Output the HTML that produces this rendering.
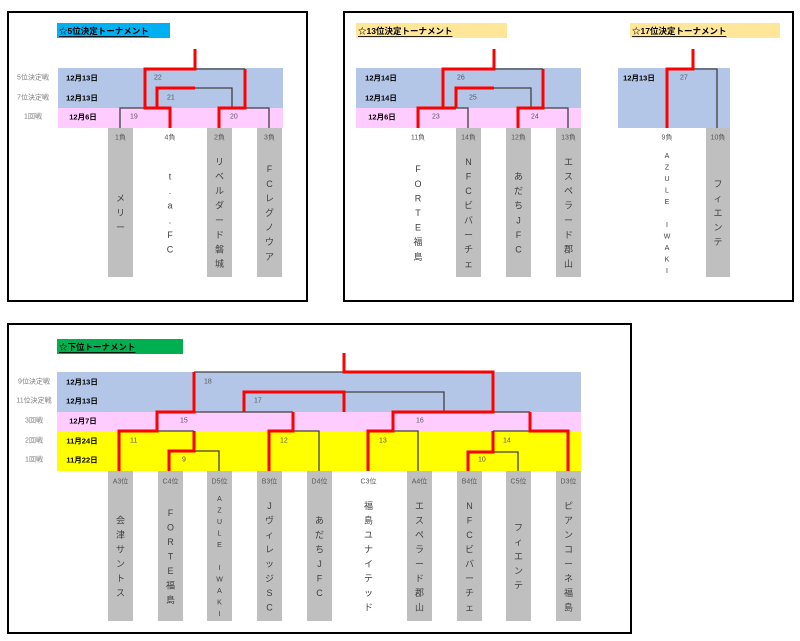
<!DOCTYPE html>
<html><head><meta charset="utf-8"><style>
html,body{margin:0;padding:0;background:#fff;}
svg{display:block;}
text{font-family:"Liberation Sans","Noto Sans CJK JP",sans-serif;}
.t{font-size:8.5px;font-weight:bold;fill:#000;text-decoration:underline;dominant-baseline:central;}
.l{font-size:7px;fill:#7f7f7f;text-anchor:middle;dominant-baseline:central;}
.d{font-size:7.5px;font-weight:bold;fill:#000;text-anchor:middle;dominant-baseline:central;}
.n{font-size:7px;fill:#595959;dominant-baseline:central;}
.c{font-size:7px;fill:#595959;text-anchor:middle;dominant-baseline:central;}
.m{font-size:9px;fill:#404040;text-anchor:middle;dominant-baseline:central;}
.s{font-size:7px;fill:#404040;text-anchor:middle;dominant-baseline:central;}
.r{fill:none;stroke:#ff0000;stroke-width:3;}
.k{fill:none;stroke:#404040;stroke-width:1.3;}
</style></head><body>
<svg width="800" height="641" viewBox="0 0 800 641" xmlns="http://www.w3.org/2000/svg">
<!-- panel borders -->
<rect x="8" y="12" width="299" height="289" fill="#fff" stroke="#000" stroke-width="2"/>
<rect x="344" y="12" width="449" height="289" fill="#fff" stroke="#000" stroke-width="2"/>
<rect x="8" y="324" width="623" height="309" fill="#fff" stroke="#000" stroke-width="2"/>

<!-- ===== Panel 1 ===== -->
<rect x="57" y="23" width="113" height="15" fill="#00B0F0"/>
<text class="t" x="59" y="31">☆5位決定トーナメント</text>
<rect x="58" y="68" width="225" height="40" fill="#B4C6E7"/>
<rect x="58" y="108" width="225" height="20" fill="#FFCCFF"/>
<text class="l" x="33" y="78">5位決定戦</text>
<text class="l" x="33" y="98">7位決定戦</text>
<text class="l" x="33" y="117">1回戦</text>
<text class="d" x="82" y="78">12月13日</text>
<text class="d" x="82" y="98">12月13日</text>
<text class="d" x="83" y="117">12月6日</text>
<rect x="108" y="128" width="25" height="149" fill="#BFBFBF"/>
<rect x="207" y="128" width="25" height="149" fill="#BFBFBF"/>
<rect x="257" y="128" width="25" height="149" fill="#BFBFBF"/>
<text class="c" x="120.5" y="138">1負</text>
<text class="c" x="170" y="138">4負</text>
<text class="c" x="219.5" y="138">2負</text>
<text class="c" x="269.5" y="138">3負</text>
<path class="k" d="M120,128 V108 H145"/>
<path class="k" d="M195,69 H245"/>
<path class="k" d="M195,88 H232 V108"/>
<path class="k" d="M232,108 H269 V128"/>
<path class="r" d="M195,49 V69 H145 V108 H170 V128"/>
<path class="r" d="M195,88 H157 V108"/>
<path class="r" d="M245,69 V108 H219 V128"/>
<text class="n" x="154" y="78">22</text>
<text class="n" x="167" y="98">21</text>
<text class="n" x="130" y="117">19</text>
<text class="n" x="230" y="117">20</text>
<text class="m" x="120.5"><tspan x="120.5" y="198.4">メ</tspan><tspan x="120.5" y="213">リ</tspan><tspan x="120.5" y="227.6">ー</tspan></text>
<text class="m" x="170"><tspan x="170" y="176.5">t</tspan><tspan x="170" y="191.1">.</tspan><tspan x="170" y="205.7">a</tspan><tspan x="170" y="220.3">.</tspan><tspan x="170" y="234.9">F</tspan><tspan x="170" y="249.5">C</tspan></text>
<text class="m" x="219.5"><tspan x="219.5" y="161.9">リ</tspan><tspan x="219.5" y="176.5">ベ</tspan><tspan x="219.5" y="191.1">ル</tspan><tspan x="219.5" y="205.7">ダ</tspan><tspan x="219.5" y="220.3">ー</tspan><tspan x="219.5" y="234.9">ド</tspan><tspan x="219.5" y="249.5">磐</tspan><tspan x="219.5" y="264.1">城</tspan></text>
<text class="m" x="269.5"><tspan x="269.5" y="169.2">F</tspan><tspan x="269.5" y="183.8">C</tspan><tspan x="269.5" y="198.4">レ</tspan><tspan x="269.5" y="213">グ</tspan><tspan x="269.5" y="227.6">ノ</tspan><tspan x="269.5" y="242.2">ウ</tspan><tspan x="269.5" y="256.8">ア</tspan></text>

<!-- ===== Panel 2 ===== -->
<rect x="356" y="23" width="151" height="15" fill="#FFE699"/>
<text class="t" x="358" y="31">☆13位決定トーナメント</text>
<rect x="630" y="23" width="150" height="15" fill="#FFE699"/>
<text class="t" x="632" y="31">☆17位決定トーナメント</text>
<rect x="356" y="68" width="225" height="40" fill="#B4C6E7"/>
<rect x="356" y="108" width="225" height="20" fill="#FFCCFF"/>
<text class="d" x="381" y="78">12月14日</text>
<text class="d" x="381" y="98">12月14日</text>
<text class="d" x="382" y="117">12月6日</text>
<rect x="456" y="128" width="25" height="149" fill="#BFBFBF"/>
<rect x="506" y="128" width="25" height="149" fill="#BFBFBF"/>
<rect x="556" y="128" width="25" height="149" fill="#BFBFBF"/>
<text class="c" x="418" y="138">11負</text>
<text class="c" x="468.5" y="138">14負</text>
<text class="c" x="518.5" y="138">12負</text>
<text class="c" x="568.5" y="138">13負</text>
<path class="k" d="M494,69 H543"/>
<path class="k" d="M494,88 H531 V108"/>
<path class="k" d="M456,108 H468 V128"/>
<path class="k" d="M531,108 H568 V128"/>
<path class="r" d="M494,49 V69 H443 V108"/>
<path class="r" d="M418,128 V108 H456"/>
<path class="r" d="M494,88 H456 V108"/>
<path class="r" d="M543,69 V108 H518 V128"/>
<text class="n" x="457" y="78">26</text>
<text class="n" x="469" y="98">25</text>
<text class="n" x="432" y="117">23</text>
<text class="n" x="531" y="117">24</text>
<text class="m"><tspan x="418" y="169.2">F</tspan><tspan x="418" y="183.8">O</tspan><tspan x="418" y="198.4">R</tspan><tspan x="418" y="213">T</tspan><tspan x="418" y="227.6">E</tspan><tspan x="418" y="242.2">福</tspan><tspan x="418" y="256.8">島</tspan></text>
<text class="m"><tspan x="468.5" y="161.9">N</tspan><tspan x="468.5" y="176.5">F</tspan><tspan x="468.5" y="191.1">C</tspan><tspan x="468.5" y="205.7">ビ</tspan><tspan x="468.5" y="220.3">バ</tspan><tspan x="468.5" y="234.9">ー</tspan><tspan x="468.5" y="249.5">チ</tspan><tspan x="468.5" y="264.1">ェ</tspan></text>
<text class="m"><tspan x="518.5" y="176.5">あ</tspan><tspan x="518.5" y="191.1">だ</tspan><tspan x="518.5" y="205.7">ち</tspan><tspan x="518.5" y="220.3">J</tspan><tspan x="518.5" y="234.9">F</tspan><tspan x="518.5" y="249.5">C</tspan></text>
<text class="m"><tspan x="568.5" y="161.9">エ</tspan><tspan x="568.5" y="176.5">ス</tspan><tspan x="568.5" y="191.1">ペ</tspan><tspan x="568.5" y="205.7">ラ</tspan><tspan x="568.5" y="220.3">ー</tspan><tspan x="568.5" y="234.9">ド</tspan><tspan x="568.5" y="249.5">郡</tspan><tspan x="568.5" y="264.1">山</tspan></text>

<!-- 17th -->
<rect x="618" y="68" width="112" height="60" fill="#B4C6E7"/>
<text class="d" x="639" y="78">12月13日</text>
<text class="n" x="680" y="78">27</text>
<rect x="706" y="128" width="24" height="149" fill="#BFBFBF"/>
<text class="c" x="667" y="138">9負</text>
<text class="c" x="718" y="138">10負</text>
<path class="k" d="M693,69 H717 V128"/>
<path class="r" d="M693,49 V69 H667 V128"/>
<text class="s"><tspan x="667" y="156">A</tspan><tspan x="667" y="167.5">Z</tspan><tspan x="667" y="179">U</tspan><tspan x="667" y="190.5">L</tspan><tspan x="667" y="202">E</tspan><tspan x="667" y="225">I</tspan><tspan x="667" y="236.5">W</tspan><tspan x="667" y="248">A</tspan><tspan x="667" y="259.5">K</tspan><tspan x="667" y="271">I</tspan></text>
<text class="m"><tspan x="718" y="183.8">フ</tspan><tspan x="718" y="198.4">ィ</tspan><tspan x="718" y="213">エ</tspan><tspan x="718" y="227.6">ン</tspan><tspan x="718" y="242.2">テ</tspan></text>

<!-- ===== Panel 3 ===== -->
<rect x="57" y="339" width="126" height="15" fill="#00B050"/>
<text class="t" x="59" y="347">☆下位トーナメント</text>
<rect x="57" y="372" width="524" height="40" fill="#B4C6E7"/>
<rect x="57" y="412" width="524" height="19" fill="#FFCCFF"/>
<rect x="57" y="431" width="524" height="40" fill="#FFFF00"/>
<text class="l" x="34" y="382">9位決定戦</text>
<text class="l" x="34" y="401">11位決定戦</text>
<text class="l" x="34" y="421">3回戦</text>
<text class="l" x="34" y="441">2回戦</text>
<text class="l" x="34" y="460">1回戦</text>
<text class="d" x="82" y="382">12月13日</text>
<text class="d" x="82" y="401">12月13日</text>
<text class="d" x="83" y="421">12月7日</text>
<text class="d" x="82" y="441">11月24日</text>
<text class="d" x="82" y="460">11月22日</text>
<rect x="108" y="471" width="25" height="150" fill="#BFBFBF"/>
<rect x="158" y="471" width="25" height="150" fill="#BFBFBF"/>
<rect x="207" y="471" width="25" height="150" fill="#BFBFBF"/>
<rect x="257" y="471" width="25" height="150" fill="#BFBFBF"/>
<rect x="307" y="471" width="25" height="150" fill="#BFBFBF"/>
<rect x="407" y="471" width="25" height="150" fill="#BFBFBF"/>
<rect x="457" y="471" width="25" height="150" fill="#BFBFBF"/>
<rect x="506" y="471" width="25" height="150" fill="#BFBFBF"/>
<rect x="556" y="471" width="25" height="150" fill="#BFBFBF"/>
<text class="c" x="120.5" y="482">A3位</text>
<text class="c" x="170.5" y="482">C4位</text>
<text class="c" x="219.5" y="482">D5位</text>
<text class="c" x="269.5" y="482">B3位</text>
<text class="c" x="319.5" y="482">D4位</text>
<text class="c" x="368.5" y="482">C3位</text>
<text class="c" x="419.5" y="482">A4位</text>
<text class="c" x="469.5" y="482">B4位</text>
<text class="c" x="518.5" y="482">C5位</text>
<text class="c" x="568.5" y="482">D3位</text>
<path class="k" d="M194,372 H344"/>
<path class="k" d="M344,392 H444 V412"/>
<path class="k" d="M194,412 H293"/>
<path class="k" d="M493,412 H530"/>
<path class="k" d="M157,431 H194"/>
<path class="k" d="M293,431 H319 V471"/>
<path class="k" d="M393,431 H418 V471"/>
<path class="k" d="M493,431 H530"/>
<path class="k" d="M194,451 H219 V471"/>
<path class="k" d="M493,452 H518 V471"/>
<path class="r" d="M344,353 V372 H493 V412 H393 V431 H368 V471"/>
<path class="r" d="M194,372 V412 H157 V431 H119 V471"/>
<path class="r" d="M244,412 V392 H344 V412"/>
<path class="r" d="M194,431 V451 H169 V471"/>
<path class="r" d="M293,412 V431 H269 V471"/>
<path class="r" d="M530,412 V431 H568 V471"/>
<path class="r" d="M493,431 V452 H468 V471"/>
<text class="n" x="204" y="382">18</text>
<text class="n" x="254" y="401">17</text>
<text class="n" x="180" y="421">15</text>
<text class="n" x="416" y="421">16</text>
<text class="n" x="130" y="441">11</text>
<text class="n" x="280" y="441">12</text>
<text class="n" x="379" y="441">13</text>
<text class="n" x="503" y="441">14</text>
<text class="n" x="182" y="460">9</text>
<text class="n" x="478" y="460">10</text>
<text class="m"><tspan x="120.5" y="520.3">会</tspan><tspan x="120.5" y="534.8">津</tspan><tspan x="120.5" y="549.3">サ</tspan><tspan x="120.5" y="563.8">ン</tspan><tspan x="120.5" y="578.3">ト</tspan><tspan x="120.5" y="592.8">ス</tspan></text>
<text class="m"><tspan x="170.5" y="513">F</tspan><tspan x="170.5" y="527.5">O</tspan><tspan x="170.5" y="542">R</tspan><tspan x="170.5" y="556.5">T</tspan><tspan x="170.5" y="571">E</tspan><tspan x="170.5" y="585.5">福</tspan><tspan x="170.5" y="600">島</tspan></text>
<text class="s"><tspan x="219.5" y="499">A</tspan><tspan x="219.5" y="510.5">Z</tspan><tspan x="219.5" y="522">U</tspan><tspan x="219.5" y="533.5">L</tspan><tspan x="219.5" y="545">E</tspan><tspan x="219.5" y="568">I</tspan><tspan x="219.5" y="579.5">W</tspan><tspan x="219.5" y="591">A</tspan><tspan x="219.5" y="602.5">K</tspan><tspan x="219.5" y="614">I</tspan></text>
<text class="m"><tspan x="269.5" y="505.8">J</tspan><tspan x="269.5" y="520.3">ヴ</tspan><tspan x="269.5" y="534.8">ィ</tspan><tspan x="269.5" y="549.3">レ</tspan><tspan x="269.5" y="563.8">ッ</tspan><tspan x="269.5" y="578.3">ジ</tspan><tspan x="269.5" y="592.8">S</tspan><tspan x="269.5" y="607.3">C</tspan></text>
<text class="m"><tspan x="319.5" y="520.3">あ</tspan><tspan x="319.5" y="534.8">だ</tspan><tspan x="319.5" y="549.3">ち</tspan><tspan x="319.5" y="563.8">J</tspan><tspan x="319.5" y="578.3">F</tspan><tspan x="319.5" y="592.8">C</tspan></text>
<text class="m"><tspan x="368.5" y="505.8">福</tspan><tspan x="368.5" y="520.3">島</tspan><tspan x="368.5" y="534.8">ユ</tspan><tspan x="368.5" y="549.3">ナ</tspan><tspan x="368.5" y="563.8">イ</tspan><tspan x="368.5" y="578.3">テ</tspan><tspan x="368.5" y="592.8">ッ</tspan><tspan x="368.5" y="607.3">ド</tspan></text>
<text class="m"><tspan x="419.5" y="505.8">エ</tspan><tspan x="419.5" y="520.3">ス</tspan><tspan x="419.5" y="534.8">ペ</tspan><tspan x="419.5" y="549.3">ラ</tspan><tspan x="419.5" y="563.8">ー</tspan><tspan x="419.5" y="578.3">ド</tspan><tspan x="419.5" y="592.8">郡</tspan><tspan x="419.5" y="607.3">山</tspan></text>
<text class="m"><tspan x="469.5" y="505.8">N</tspan><tspan x="469.5" y="520.3">F</tspan><tspan x="469.5" y="534.8">C</tspan><tspan x="469.5" y="549.3">ビ</tspan><tspan x="469.5" y="563.8">バ</tspan><tspan x="469.5" y="578.3">ー</tspan><tspan x="469.5" y="592.8">チ</tspan><tspan x="469.5" y="607.3">ェ</tspan></text>
<text class="m"><tspan x="518.5" y="527.5">フ</tspan><tspan x="518.5" y="542">ィ</tspan><tspan x="518.5" y="556.5">エ</tspan><tspan x="518.5" y="571">ン</tspan><tspan x="518.5" y="585.5">テ</tspan></text>
<text class="m"><tspan x="568.5" y="505.8">ピ</tspan><tspan x="568.5" y="520.3">ア</tspan><tspan x="568.5" y="534.8">ン</tspan><tspan x="568.5" y="549.3">コ</tspan><tspan x="568.5" y="563.8">ー</tspan><tspan x="568.5" y="578.3">ネ</tspan><tspan x="568.5" y="592.8">福</tspan><tspan x="568.5" y="607.3">島</tspan></text>
</svg>
</body></html>
